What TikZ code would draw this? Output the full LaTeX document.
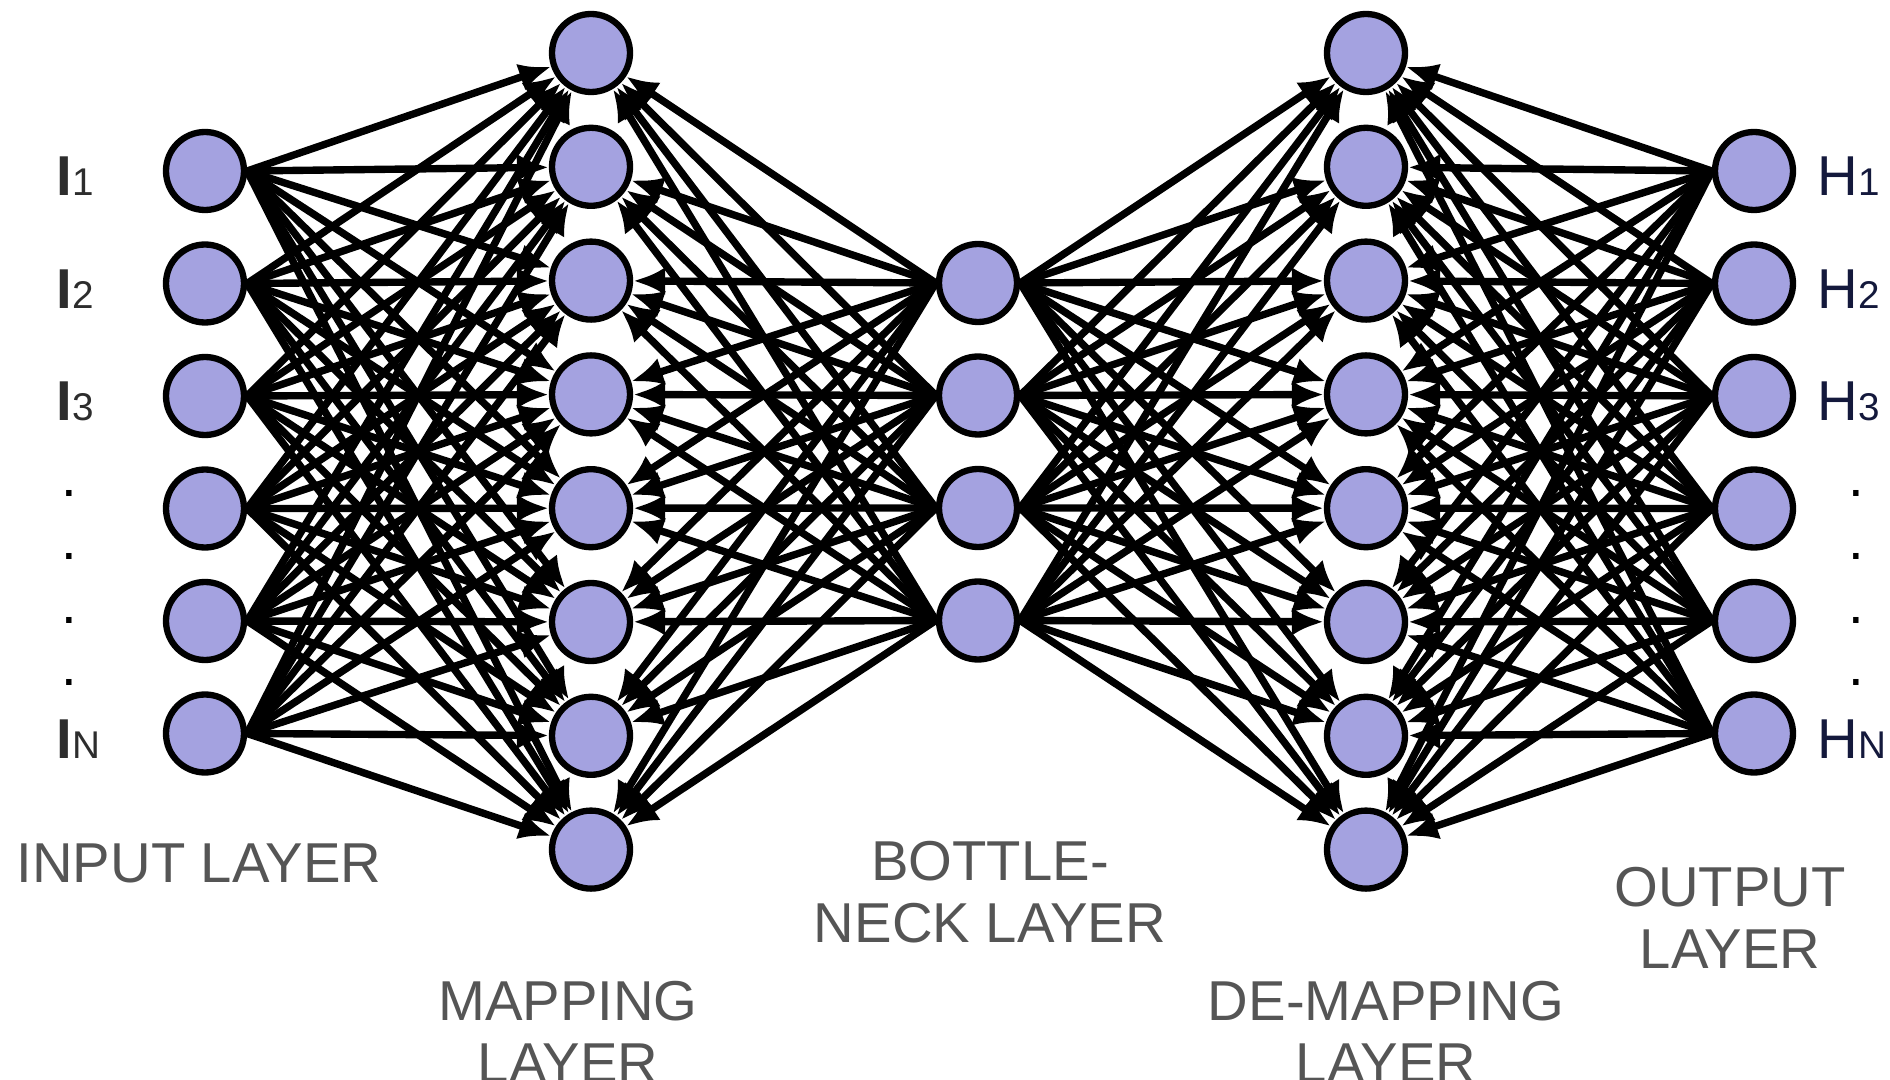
\documentclass[tikz,border=0pt]{standalone}
\usepackage{fontspec}
\setmainfont{Liberation Sans}
\usetikzlibrary{arrows.meta}
\definecolor{neuronfill}{RGB}{164,162,224}
\definecolor{labelgray}{RGB}{85,85,85}
\definecolor{idark}{RGB}{45,45,45}
\definecolor{hdark}{RGB}{20,25,60}
\newcommand{\lsub}[1]{{\fontsize{11}{11}\selectfont\mdseries #1}}

\begin{document}
\begin{tikzpicture}[x=1cm, y=-1cm,
    neuron/.style={circle, draw=black, line width=1.8pt, fill=neuronfill, minimum size=0.78cm, inner sep=0pt},
    conn/.style={-{Latex[length=3.2mm,width=2.8mm]}, line width=2.1pt},
    layerlabel/.style={text=labelgray, font=\fontsize{16}{17.5}\selectfont, align=center, anchor=base}]
    \useasboundingbox (0,0) rectangle (18.9,10.8);

    % Input and output layers
    \foreach \k in {1,...,6} {
        \node[neuron] (in\k) at (2.05, {1.71+1.125*(\k-1)}) {};
        \node[neuron] (out\k) at (17.54, {1.71+1.125*(\k-1)}) {};
    }
    % Mapping and de-mapping layers
    \foreach \k in {1,...,8} {
        \node[neuron] (map\k) at (5.91, {0.53+1.138*(\k-1)}) {};
        \node[neuron] (demap\k) at (13.66, {0.53+1.138*(\k-1)}) {};
    }
    % Bottleneck layer
    \foreach \k in {1,...,4}
        \node[neuron] (neck\k) at (9.78, {2.83+1.125*(\k-1)}) {};

    % Connections
    \foreach \i in {1,...,6}
        \foreach \j in {1,...,8} {
            \draw[conn] (in\i.east) -- (map\j);
            \draw[conn] (out\i.west) -- (demap\j);
        }
    \foreach \i in {1,...,4}
        \foreach \j in {1,...,8} {
            \draw[conn] (neck\i.west) -- (map\j);
            \draw[conn] (neck\i.east) -- (demap\j);
        }

    % Unit labels
    \foreach \k/\s in {1/1,2/2,3/3,6/N} {
        \node[anchor=base west, inner sep=0pt, text=idark, font=\fontsize{16}{16}\selectfont\bfseries]
            (ilab\k) at (0.56, {1.71+1.125*(\k-1)+0.25}) {I\lsub{\s}};
        \node[anchor=base west, inner sep=0pt, text=hdark, font=\fontsize{16}{16}\selectfont]
            (hlab\k) at (18.17, {1.71+1.125*(\k-1)+0.25}) {H\lsub{\s}};
    }
    \foreach \y [count=\n] in {4.94,5.57,6.21,6.83} {
        \node[anchor=base, inner sep=0pt, font=\fontsize{16}{16}\selectfont] (ldot\n) at (0.69, \y+0.03) {.};
        \node[anchor=base, inner sep=0pt, font=\fontsize{16}{16}\selectfont] (rdot\n) at (18.56, \y+0.03) {.};
    }

    % Layer names (base = last line)
    \node[layerlabel] (inname) at (1.99, 8.83) {INPUT LAYER};
    \node[layerlabel] (mapname) at (5.68, 10.82) {MAPPING\\LAYER};
    \node[layerlabel] (neckname) at (9.90, 9.42) {BOTTLE-\\NECK LAYER};
    \node[layerlabel] (demapname) at (13.86, 10.82) {DE-MAPPING\\LAYER};
    \node[layerlabel] (outname) at (17.30, 9.68) {OUTPUT\\LAYER};
\end{tikzpicture}
\end{document}
